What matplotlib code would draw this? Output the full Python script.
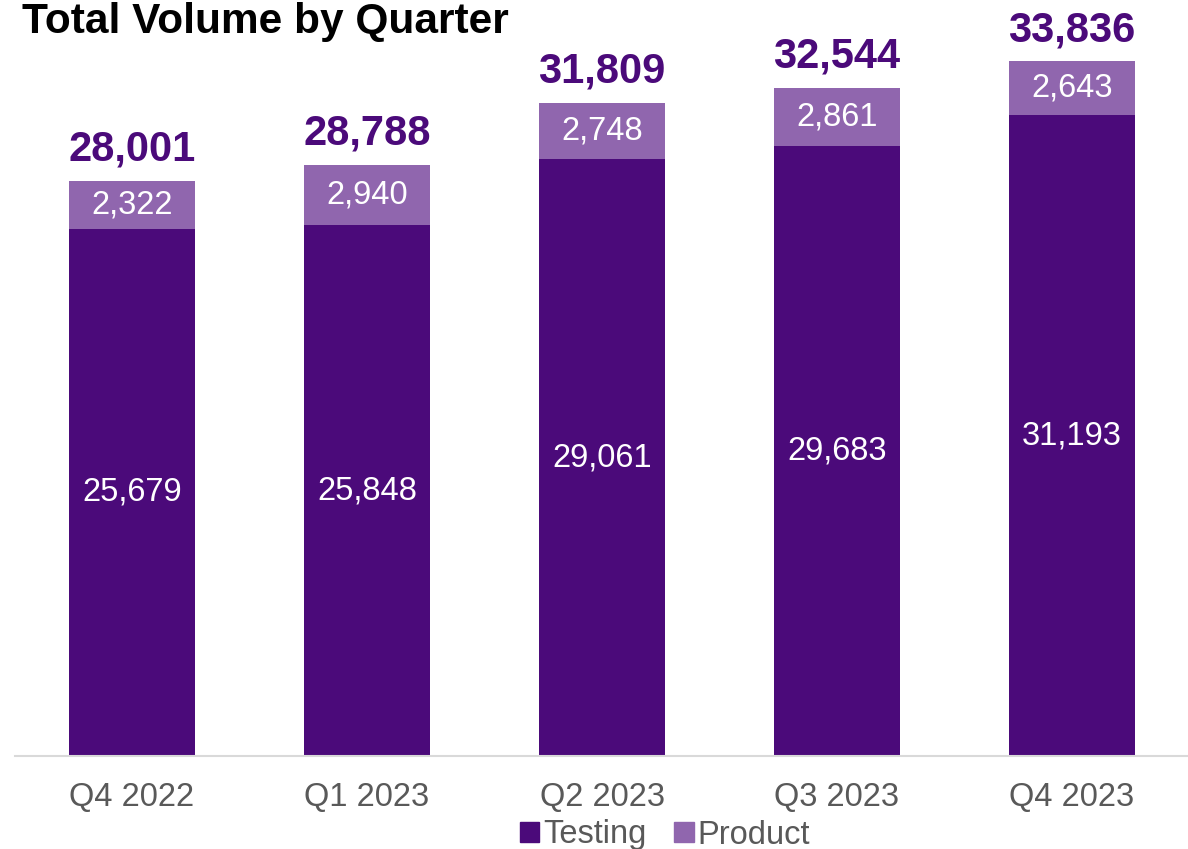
import matplotlib
matplotlib.use("Agg")
import matplotlib.pyplot as plt
from matplotlib.patches import Patch

quarters = ["Q4 2022", "Q1 2023", "Q2 2023", "Q3 2023", "Q4 2023"]
testing = [25679, 25848, 29061, 29683, 31193]
product = [2322, 2940, 2748, 2861, 2643]
totals = [28001, 28788, 31809, 32544, 33836]

c_test = "#4B0A7A"
c_prod = "#9066AE"
gray = "#595959"

plt.rcParams["font.family"] = ["Liberation Sans", "DejaVu Sans"]

W, H = 1188, 849
fig = plt.figure(figsize=(W / 100, H / 100), dpi=100)
ax = fig.add_axes([14.5 / W, (H - 756) / H, 1175 / W, 746 / H])

x = list(range(len(quarters)))
bw = 0.536
ax.bar(x, testing, width=bw, color=c_test, label="Testing")
ax.bar(x, product, width=bw, bottom=testing, color=c_prod, label="Product")

for i in x:
    ax.text(i, testing[i] / 2, f"{testing[i]:,}", ha="center", va="center",
            color="white", fontsize=23.5)
    ax.text(i, testing[i] + product[i] / 2, f"{product[i]:,}", ha="center",
            va="center", color="white", fontsize=23.5)
    ax.annotate(f"{totals[i]:,}", (i, testing[i] + product[i]),
                xytext=(0, 8), textcoords="offset points", ha="center",
                va="bottom", color=c_test, fontsize=30, fontweight="bold")

ax.set_xlim(-0.5, len(quarters) - 0.5)
ax.set_ylim(0, 746 / (575 / 28001))
ax.set_xticks(x)
ax.set_xticklabels(quarters, fontsize=23.5, color=gray)
ax.tick_params(axis="x", length=0, pad=19)
ax.set_yticks([])
for s in ["top", "right", "left"]:
    ax.spines[s].set_visible(False)
ax.spines["bottom"].set_color("#D9D9D9")
ax.spines["bottom"].set_linewidth(1.5)

fig.text(22 / W, 1 - 2 / H, "Total Volume by Quarter", ha="left", va="top",
         fontsize=30.5, fontweight="bold", color="black")

handles = [Patch(color=c_test, label="Testing"), Patch(color=c_prod, label="Product")]
leg = fig.legend(handles=handles, loc="center", bbox_to_anchor=(665 / W, 1 - 835 / H),
                 ncol=2, frameon=False, fontsize=23.5, handlelength=0.6, handleheight=0.6,
                 handletextpad=0.12, columnspacing=0.85, borderpad=0)
for t in leg.get_texts():
    t.set_color(gray)

fig.savefig("out.png", dpi=100)
